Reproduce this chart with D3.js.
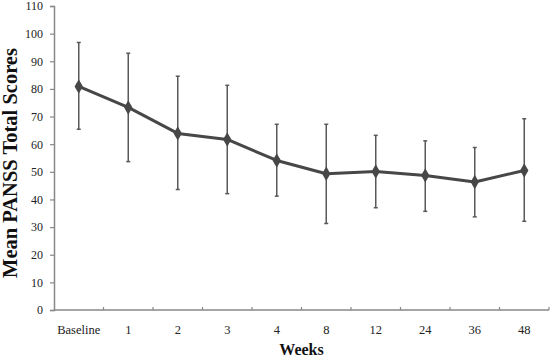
<!DOCTYPE html>
<html>
<head>
<meta charset="utf-8">
<script src="https://cdn.jsdelivr.net/npm/d3@7"></script>
<style>
  html, body { margin: 0; padding: 0; background: #fff; }
  #chart { width: 550px; height: 358px; }
  svg text { font-family: "Liberation Serif", "Times New Roman", serif; }
</style>
</head>
<body>
<div id="chart"></div>
<script>
// PANSS total scores over time: mean with SD error bars
const weeks = ['Baseline', '1', '2', '3', '4', '8', '12', '24', '36', '48'];
const means = [80.9, 73.3, 63.9, 61.7, 54.1, 49.3, 50.1, 48.7, 46.3, 50.5];
const upper = [96.8, 92.9, 84.6, 81.3, 67.2, 67.2, 63.2, 61.2, 58.8, 69.2];
const lower = [65.4, 53.7, 43.6, 42.1, 41.2, 31.3, 37.0, 35.7, 33.7, 32.1];
const yTicks = [0, 10, 20, 30, 40, 50, 60, 70, 80, 90, 100, 110];

(function(){
  const W = 550, H = 358;
  const margin = {t:6, r:1, b:48, l:54};
  const w = W - margin.l - margin.r;
  const h = H - margin.t - margin.b;

  const svg = d3.select('#chart').append('svg').attr('width', W).attr('height', H);
  const g = svg.append('g').attr('transform', `translate(${margin.l},${margin.t})`);

  const x = d3.scaleBand().domain(weeks).range([0, w]);
  const y = d3.scaleLinear().domain([0, 110]).range([h, 0]);
  const cx = d => x(d) + x.bandwidth() / 2;

  // y axis
  const yAxis = g.append('g')
    .call(d3.axisLeft(y).tickValues(yTicks).tickSize(4).tickPadding(7));
  yAxis.select('.domain').attr('stroke', '#888').attr('stroke-width', 1.5);
  yAxis.selectAll('.tick line').attr('stroke', '#888').attr('stroke-width', 1.2);
  yAxis.selectAll('text').attr('font-size', 12).attr('fill', '#222')
    .style('font-family', '"Liberation Serif", serif');

  // x axis: baseline with ticks between categories
  const xg = g.append('g').attr('transform', `translate(0,${h})`);
  xg.append('line').attr('x1', 0).attr('x2', w).attr('stroke', '#888').attr('stroke-width', 1.5);
  xg.selectAll('.xtick').data(weeks)
    .enter().append('line')
    .attr('x1', d => x(d) + x.bandwidth())
    .attr('x2', d => x(d) + x.bandwidth())
    .attr('y1', -3).attr('y2', 0)
    .attr('stroke', '#888').attr('stroke-width', 1.2);
  xg.selectAll('.xlab').data(weeks).enter().append('text')
    .attr('x', d => cx(d)).attr('y', 24)
    .attr('text-anchor', 'middle').attr('font-size', 12.5).attr('fill', '#222')
    .text(d => d);

  // error bars
  const eb = g.append('g');
  weeks.forEach((wk, i) => {
    const px = cx(wk);
    eb.append('line').attr('x1', px).attr('x2', px)
      .attr('y1', y(upper[i])).attr('y2', y(lower[i]))
      .attr('stroke', '#595959').attr('stroke-width', 1.5);
    [upper[i], lower[i]].forEach(v => {
      eb.append('line').attr('x1', px - 2).attr('x2', px + 2)
        .attr('y1', y(v)).attr('y2', y(v))
        .attr('stroke', '#595959').attr('stroke-width', 1.5);
    });
  });

  // mean line
  const line = d3.line().x((d, i) => cx(weeks[i])).y(d => y(d));
  g.append('path').datum(means)
    .attr('fill', 'none').attr('stroke', '#474747').attr('stroke-width', 3)
    .attr('stroke-linejoin', 'round').attr('d', line);

  // diamond markers
  const sym = d3.symbol().type(d3.symbolDiamond).size(60);
  g.selectAll('.pt').data(means).enter().append('path')
    .attr('transform', (d, i) => `translate(${cx(weeks[i])},${y(d)})`)
    .attr('d', sym).attr('fill', '#474747');

  // axis titles
  svg.append('text')
    .attr('x', margin.l + w / 2).attr('y', H - 3)
    .attr('text-anchor', 'middle').attr('font-size', 16).attr('font-weight', 'bold')
    .attr('fill', '#111').text('Weeks');
  svg.append('text')
    .attr('transform', `translate(17,163) rotate(-90)`)
    .attr('text-anchor', 'middle').attr('font-size', 20.5).attr('font-weight', 'bold')
    .attr('fill', '#111').text('Mean PANSS Total Scores');
})();
</script>
</body>
</html>
